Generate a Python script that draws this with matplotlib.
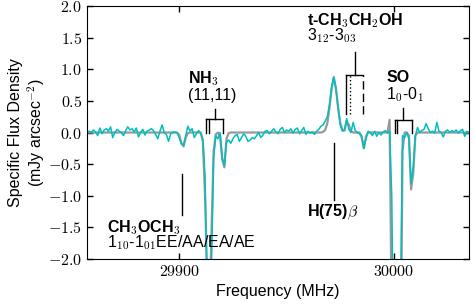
import numpy as np
import matplotlib
matplotlib.use('Agg')
import matplotlib.pyplot as plt
from matplotlib.ticker import FuncFormatter, MultipleLocator

plt.rcParams['font.family'] = ['Liberation Sans', 'DejaVu Sans']
plt.rcParams['mathtext.fontset'] = 'cm'
plt.rcParams['font.size'] = 11.5

# channel frequencies (MHz), 1 MHz channels
freq = np.arange(29856, 30037)

# observed spectrum (mJy arcsec^-2)
spec = [
    0.01, 0.0, 0.02, 0.0, 0.04, 0.01, -0.05, 0.07, -0.02, 0.04,
    0.06, 0.02, 0.09, -0.08, 0.0, 0.05, 0.02, 0.0, -0.05, 0.03,
    0.09, 0.04, 0.06, 0.01, 0.07, -0.07, 0.0, 0.05, -0.04, 0.02,
    0.04, 0.06, 0.03, -0.03, -0.1, 0.02, 0.12, 0.0, -0.03, -0.14,
    -0.02, 0.0, 0.01, -0.01, -0.08, -0.18, -0.2, -0.05, 0.1, 0.02,
    0.06, -0.08, -0.02, 0.03, -0.01, -0.1, -0.7, -2.6, -3.2, -2.1,
    -0.4, -0.05, -0.1, 0.0, -0.4, -0.52, -0.15, -0.12, -0.17, -0.1,
    -0.05, -0.03, -0.14, -0.08, -0.02, -0.06, -0.14, -0.12, -0.08, -0.1,
    -0.05, 0.0, -0.08, -0.04, 0.02, 0.03, -0.02, 0.02, 0.06, 0.01,
    -0.02, 0.05, 0.08, 0.0, 0.04, 0.02, 0.06, -0.01, 0.05, 0.07,
    -0.02, 0.03, 0.08, -0.03, 0.02, -0.01, 0.01, -0.03, 0.02, 0.05,
    0.1, 0.12, 0.18, 0.25, 0.45, 0.72, 0.88, 0.68, 0.4, 0.12,
    0.02, 0.05, 0.22, 0.05, 0.0, 0.16, 0.03, 0.0, -0.02, -0.05,
    -0.25, -0.1, 0.02, 0.0, -0.05, 0.02, -0.06, 0.0, -0.04, 0.01,
    0.03, -0.01, 0.02, -1.0, -4.0, -4.5, -4.5, -3.0, -0.05, -0.08,
    0.0, -0.1, -0.8, -0.55, -0.05, 0.08, 0.0, 0.03, 0.05, 0.14,
    0.06, 0.0, 0.02, -0.01, 0.16, 0.02, 0.0, -0.07, 0.02, 0.04,
    0.0, 0.03, 0.01, 0.04, -0.01, 0.03, 0.05, -0.06, 0.02, 0.0,
    0.02,
]

# model spectrum
model = [
    0.0, 0.0, 0.0, 0.0, 0.0, 0.0, 0.0, 0.0, 0.0, 0.0,
    0.0, 0.0, 0.0, 0.0, 0.0, 0.0, 0.0, 0.0, 0.0, 0.0,
    0.0, 0.0, 0.0, 0.0, 0.0, 0.0, 0.0, 0.0, 0.0, 0.0,
    0.0, 0.0, 0.0, 0.0, 0.0, 0.0, 0.0, 0.0, 0.0, 0.0,
    0.0, 0.0, 0.0, 0.0, -0.04, -0.17, -0.22, -0.08, -0.01, 0.0,
    0.0, 0.0, 0.0, 0.0, 0.0, -0.15, -1.0, -2.3, -3.0, -1.6,
    -0.3, -0.03, 0.0, -0.05, -0.42, -0.55, -0.1, -0.01, 0.0, 0.0,
    0.0, 0.0, 0.0, 0.0, 0.0, 0.0, 0.0, 0.0, 0.0, 0.0,
    0.0, 0.0, 0.0, 0.0, 0.0, 0.0, 0.0, 0.0, 0.0, 0.0,
    0.0, 0.0, 0.0, 0.0, 0.0, 0.0, 0.0, 0.0, 0.0, 0.0,
    0.0, 0.0, 0.0, 0.0, 0.0, 0.0, 0.0, 0.0, 0.0, 0.0,
    0.0, 0.01, 0.04, 0.15, 0.39, 0.7, 0.87, 0.7, 0.39, 0.15,
    0.04, 0.03, 0.18, 0.12, 0.02, 0.0, 0.0, 0.0, 0.0, -0.08,
    -0.25, -0.06, 0.0, 0.0, 0.0, 0.0, 0.0, 0.0, 0.0, 0.0,
    0.0, 0.0, 0.2, -3.0, -5.0, -5.0, -5.0, -4.5, -0.3, 0.0,
    0.0, -0.05, -0.9, -0.65, -0.05, 0.0, 0.0, 0.0, 0.0, 0.0,
    0.0, 0.0, 0.0, 0.0, 0.0, 0.0, 0.0, 0.0, 0.0, 0.0,
    0.0, 0.0, 0.0, 0.0, 0.0, 0.0, 0.0, 0.0, 0.0, 0.0,
    0.0,
]

# line identification markers (MHz)
nh3_lines = [29912.4, 29914.0, 29920.6]
etoh_lines = [29977.6, 29979.6, 29985.8]
etoh_styles = ['-', ':', '--']
so_lines = [30000.4, 30001.5, 30008.4]
h75b_freq = 29972.1
ch3och3_freq = 29901.5

fig = plt.figure(figsize=(4.74, 3.05), dpi=100)
ax = fig.add_axes([0.1835, 0.1508, 0.806, 0.8295])

ax.plot(freq, model, color='0.6', lw=1.6)
ax.plot(freq, spec, color='c', lw=1.1)

k = dict(color='k', lw=1.0)

# NH3 bracket
for f in nh3_lines:
    ax.plot([f, f], [0.0, 0.21], **k)
ax.plot([nh3_lines[0], nh3_lines[-1]], [0.21, 0.21], **k)
mid = (nh3_lines[0] + nh3_lines[-1]) / 2
ax.plot([mid, mid], [0.21, 0.37], **k)
ax.text(29904.2, 0.78, 'NH$_3$', fontweight='bold')
ax.text(29904.2, 0.52, '(11,11)')

# t-CH3CH2OH bracket
for f, ls in zip(etoh_lines, etoh_styles):
    if ls == '--':
        ax.plot([f, f], [0.29, 0.91], color='k', lw=1.0, dashes=(6, 3))
    else:
        ax.plot([f, f], [0.29, 0.91], color='k', lw=1.0, ls=ls)
ax.plot([etoh_lines[0], etoh_lines[-1]], [0.91, 0.91], **k)
mid = (etoh_lines[0] + etoh_lines[-1]) / 2
ax.plot([mid, mid], [0.91, 1.27], **k)
ax.text(29959.6, 1.70, 't-CH$_3$CH$_2$OH', fontweight='bold')
ax.text(29959.6, 1.46, '3$_{12}$-3$_{03}$')

# SO bracket
for f in so_lines:
    ax.plot([f, f], [0.0, 0.19], **k)
ax.plot([so_lines[0], so_lines[-1]], [0.19, 0.19], **k)
mid = (so_lines[0] + so_lines[-1]) / 2
ax.plot([mid, mid], [0.19, 0.38], **k)
ax.text(29996.4, 0.80, 'SO', fontweight='bold')
ax.text(29996.4, 0.53, '1$_0$-0$_1$')

# H(75)beta
ax.plot([h75b_freq, h75b_freq], [-0.17, -1.07], **k)
ax.text(29959.6, -1.33, r'H(75)$\beta$', fontweight='bold')

# CH3OCH3
ax.plot([ch3och3_freq, ch3och3_freq], [-0.65, -1.3], **k)
ax.text(29866.3, -1.57, 'CH$_3$OCH$_3$', fontweight='bold')
ax.text(29866.3, -1.81, '1$_{10}$-1$_{01}$EE/AA/EA/AE')

ax.set_xlim(29857, 30035)
ax.set_ylim(-2.0, 2.0)
ax.xaxis.set_major_locator(MultipleLocator(100))
ax.yaxis.set_major_locator(MultipleLocator(0.5))
ax.xaxis.set_major_formatter(FuncFormatter(lambda v, p: r'$%d$' % v))
ax.yaxis.set_major_formatter(FuncFormatter(lambda v, p: r'$%.1f$' % v))
ax.tick_params(direction='in', top=True, right=True, length=4, width=1, labelsize=11.5)

ax.set_xlabel('Frequency (MHz)')
ax.set_ylabel('Specific Flux Density\n(mJy arcsec$^{-2}$)', multialignment='center', labelpad=0.5)

fig.savefig('out.png', dpi=100)
